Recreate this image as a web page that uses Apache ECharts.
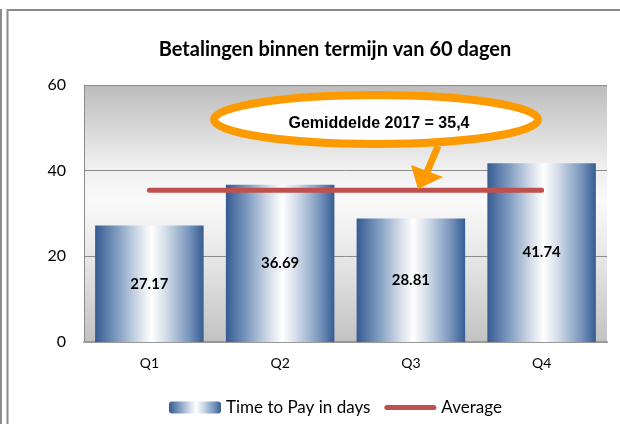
<!DOCTYPE html>
<html>
<head>
<meta charset="utf-8">
<script src="https://cdn.jsdelivr.net/npm/echarts@6/dist/echarts.min.js"></script>
<style>
  html, body { margin: 0; padding: 0; background: #fff; }
  #main { width: 620px; height: 424px; }
</style>
</head>
<body>
<div id="main"></div>
<script>
var quarters = ['Q1', 'Q2', 'Q3', 'Q4'];
var timeToPay = [27.17, 36.69, 28.81, 41.74];
var average = [35.4, 35.4, 35.4, 35.4];
var yTicks = [0, 20, 40, 60];
var calloutText = 'Gemiddelde 2017 = 35,4';

var dom = document.getElementById('main');
var myChart = echarts.init(dom, null, { renderer: 'canvas' });

var gridLeft = 84, gridTop = 85, gridRight = 13, gridBottom = 82;
var orange = '#fc9a00';

var barFill = new echarts.graphic.LinearGradient(0, 0, 1, 0, [
	{ offset: 0, color: '#355b92' },
	{ offset: 0.2, color: '#7f9bc0' },
	{ offset: 0.4, color: '#d3dde9' },
	{ offset: 0.52, color: '#ffffff' },
	{ offset: 0.65, color: '#d3dde9' },
	{ offset: 0.85, color: '#7f9bc0' },
	{ offset: 1, color: '#375d94' }
]);

var plotFill = new echarts.graphic.LinearGradient(0, 0, 0, 1, [
	{ offset: 0, color: '#bcbcbc' },
	{ offset: 0.3, color: '#ededed' },
	{ offset: 0.45, color: '#fafafa' },
	{ offset: 0.7, color: '#e4e4e4' },
	{ offset: 1, color: '#c2c2c2' }
]);

// rounded bar used as the legend mark of the average line
var lineIcon = 'path://M2.5,0 L49.5,0 A2.5,2.5 0 0 1 49.5,5 L2.5,5 A2.5,2.5 0 0 1 2.5,0 Z';

option = {
	animation: false,
	backgroundColor: '#ffffff',
	title: {
		text: 'Betalingen binnen termijn van 60 dagen',
		left: 330,
		top: 35,
		textAlign: 'center',
		textStyle: { fontFamily: 'Lato', fontWeight: 'bold', fontSize: 20, color: '#000' }
	},
	legend: {
		left: 169,
		top: 399,
		padding: 0,
		itemWidth: 52,
		itemHeight: 12,
		itemGap: 14,
		textStyle: { fontFamily: 'Lato', fontSize: 17, color: '#000' },
		data: [
			{ name: 'Time to Pay in days' },
			{ name: 'Average', icon: lineIcon, itemStyle: { color: '#c0504d' } }
		]
	},
	grid: {
		left: gridLeft, right: gridRight, top: gridTop, bottom: gridBottom,
		show: true,
		backgroundColor: plotFill,
		borderWidth: 0
	},
	xAxis: {
		type: 'category',
		data: quarters,
		axisTick: { show: false },
		axisLine: { lineStyle: { color: '#999', width: 2 } },
		axisLabel: { fontFamily: 'Lato', fontSize: 14, color: '#000', margin: 14 }
	},
	yAxis: {
		type: 'value',
		min: yTicks[0],
		max: yTicks[yTicks.length - 1],
		interval: 20,
		axisLine: { show: true, lineStyle: { color: '#8c8c8c', width: 1 } },
		axisTick: { show: false },
		splitLine: { lineStyle: { color: '#8c8c8c', width: 1 } },
		axisLabel: { fontFamily: 'Lato', fontSize: 16, color: '#000', margin: 18 }
	},
	series: [{
		name: 'Time to Pay in days',
		type: 'bar',
		data: timeToPay,
		barCategoryGap: '17%',
		itemStyle: { color: barFill },
		label: {
			show: true,
			position: 'inside',
			fontFamily: 'Lato',
			fontWeight: 'bold',
			fontSize: 15,
			color: '#000'
		}
	}, {
		name: 'Average',
		type: 'line',
		data: average,
		symbol: 'none',
		z: 3,
		itemStyle: { color: '#c0504d' },
		lineStyle: { color: '#c0504d', width: 5, cap: 'round' }
	}],
	graphic: [
		{ type: 'line', z: -10, silent: true,
		  shape: { x1: 1, y1: 9, x2: 1, y2: 424 },
		  style: { stroke: '#8c8c8c', lineWidth: 2 } },
		{ type: 'rect', z: -10, silent: true,
		  shape: { x: 7.5, y: 10, width: 800, height: 600 },
		  style: { fill: null, stroke: '#8c8c8c', lineWidth: 2 } },
		{ type: 'ellipse', z: 100, silent: true,
		  shape: { cx: 376, cy: 119.5, rx: 162, ry: 24.5 },
		  style: { fill: '#ffffff', stroke: orange, lineWidth: 8 } },
		{ type: 'text', z: 101, silent: true,
		  x: 379, y: 124,
		  style: { text: calloutText, fill: '#000', font: 'bold 16px "Liberation Sans"',
		           textAlign: 'center', textVerticalAlign: 'middle' } },
		{ type: 'line', z: 100, silent: true,
		  shape: { x1: 438, y1: 146, x2: 427, y2: 172 },
		  style: { stroke: orange, lineWidth: 7 } },
		{ type: 'polygon', z: 100, silent: true,
		  shape: { points: [[411, 165], [443, 177], [418, 189]] },
		  style: { fill: orange } }
	]
};

myChart.setOption(option);
</script>
</body>
</html>
